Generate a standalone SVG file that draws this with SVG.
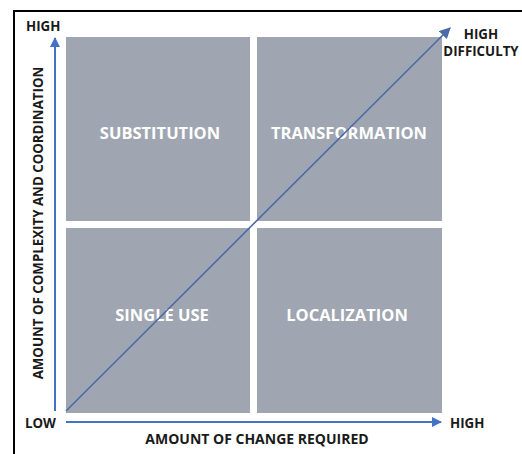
<svg xmlns="http://www.w3.org/2000/svg" width="522" height="454" viewBox="0 0 522 454">
<defs>
<style>
.q{fill:#a0a6b1}
.ql{font-family:"Open Sans","Liberation Sans",sans-serif;font-weight:bold;font-size:16.5px;fill:#ffffff;text-anchor:middle}
.lb{font-family:"Open Sans","Liberation Sans",sans-serif;font-weight:bold;font-size:13.3px;fill:#1a1a1a}
.ax{stroke:#4472c4;stroke-width:2;fill:none}
</style>
<marker id="ah" viewBox="0 0 10 10" refX="9" refY="5" markerWidth="5" markerHeight="5" orient="auto" markerUnits="strokeWidth">
<path d="M0,0 L10,5 L0,10 z" fill="#4472c4"/>
</marker>
<marker id="ad" viewBox="0 0 10 10" refX="9" refY="5" markerWidth="7" markerHeight="7" orient="auto" markerUnits="strokeWidth">
<path d="M0,0 L10,5 L0,10 z" fill="#4a6aa8"/>
</marker>
</defs>
<rect width="522" height="454" fill="#ffffff"/>
<path d="M14,454 L14,11 L522,11" stroke="#000000" stroke-width="2" fill="none"/>
<g id="substitution"><rect class="q" x="66" y="37" width="184" height="184"/><text class="ql" x="160" y="139">SUBSTITUTION</text></g>
<g id="transformation"><rect class="q" x="257" y="37" width="185" height="184"/><text class="ql" x="349" y="139">TRANSFORMATION</text></g>
<g id="single-use"><rect class="q" x="66" y="228" width="184" height="185"/><text class="ql" x="162" y="321">SINGLE USE</text></g>
<g id="localization"><rect class="q" x="257" y="228" width="185" height="185"/><text class="ql" x="347" y="321">LOCALIZATION</text></g>
<g id="connectors">
<line class="ax" x1="55" y1="411" x2="55" y2="38" marker-end="url(#ah)"/>
<line class="ax" x1="66" y1="422" x2="441" y2="422" marker-end="url(#ah)"/>
<line x1="66" y1="411" x2="450" y2="28" stroke="#4a6aa8" stroke-width="1.6" marker-end="url(#ad)"/>
</g>
<g id="labels">
<text class="lb" x="26" y="31">HIGH</text>
<text class="lb" x="25" y="428">LOW</text>
<text class="lb" x="450" y="428">HIGH</text>
<text class="lb" x="481" y="39" text-anchor="middle">HIGH</text>
<text class="lb" x="481" y="56" text-anchor="middle">DIFFICULTY</text>
<text class="lb" x="257" y="444" text-anchor="middle" style="font-size:14px">AMOUNT OF CHANGE REQUIRED</text>
<text class="lb" x="0" y="0" text-anchor="middle" transform="translate(43,223) rotate(-90)">AMOUNT OF COMPLEXITY AND COORDINATION</text>
</g>
</svg>
